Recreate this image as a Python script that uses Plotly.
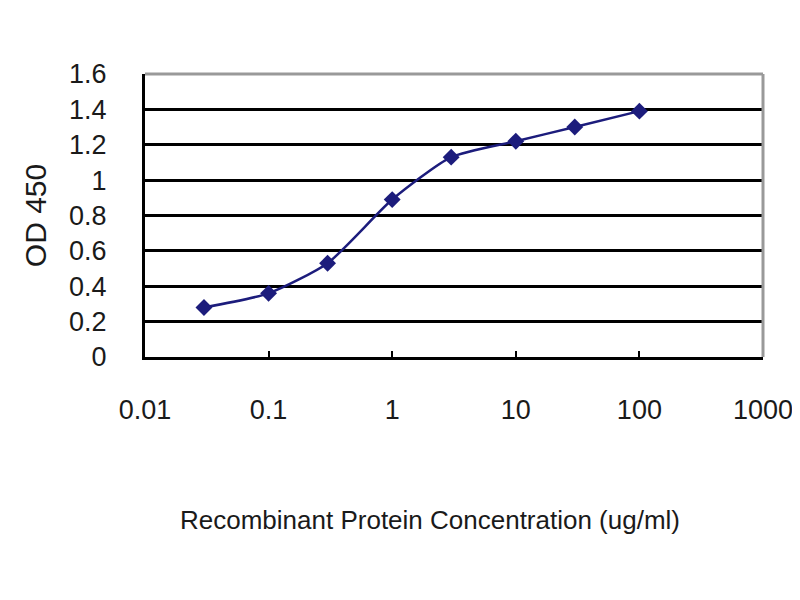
import plotly.graph_objects as go

# ELISA standard curve
concentration = [0.03, 0.1, 0.3, 1, 3, 10, 30, 100]
od450 = [0.28, 0.36, 0.53, 0.89, 1.13, 1.22, 1.30, 1.39]

x_tickvals = [0.01, 0.1, 1, 10, 100, 1000]
x_ticktext = ["0.01", "0.1", "1", "10", "100", "1000"]
y_tickvals = [0, 0.2, 0.4, 0.6, 0.8, 1.0, 1.2, 1.4, 1.6]
y_ticktext = ["0", "0.2", "0.4", "0.6", "0.8", "1", "1.2", "1.4", "1.6"]

navy = "#1c1c7c"
font_family = "Liberation Sans, Arial, sans-serif"

fig = go.Figure()

fig.add_trace(go.Scatter(
    x=concentration, y=od450,
    mode="lines+markers",
    line=dict(color=navy, width=2.5, shape="spline", smoothing=0.6),
    marker=dict(symbol="diamond", size=13, color=navy),
    showlegend=False
))

fig.update_layout(
    width=800, height=600,
    margin=dict(l=137, r=45, t=66, b=251),
    paper_bgcolor="white",
    plot_bgcolor="white",
    font=dict(family=font_family, color="#1a1a1a"),
    xaxis=dict(
        type="log",
        range=[-2, 3],
        tickvals=x_tickvals,
        ticktext=x_ticktext,
        ticks="inside", ticklen=6, tickwidth=2, tickcolor="black",
        ticklabelstandoff=27,
        tickfont=dict(size=27),
        showgrid=False,
        showline=True, linecolor="black", linewidth=3,
        zeroline=False,
    ),
    yaxis=dict(
        range=[0, 1.6],
        tickvals=y_tickvals,
        ticktext=y_ticktext,
        ticks="",
        ticklabelstandoff=30,
        tickfont=dict(size=27),
        showgrid=True, gridcolor="black", gridwidth=3,
        showline=True, linecolor="black", linewidth=3,
        zeroline=False,
        title=dict(text="OD 450", font=dict(size=30), standoff=14),
    ),
    annotations=[
        # x-axis title sits a little left of the plot centre in the original
        dict(text="Recombinant Protein Concentration (ug/ml)",
             xref="paper", yref="paper", x=0.461, y=0,
             xanchor="center", yanchor="middle", yshift=-163,
             showarrow=False, font=dict(size=26)),
    ],
    shapes=[
        dict(type="line", xref="paper", yref="paper", x0=0, x1=1, y0=1, y1=1,
             line=dict(color="#999999", width=3)),
        dict(type="line", xref="paper", yref="paper", x0=1, x1=1, y0=0, y1=1,
             line=dict(color="#999999", width=3)),
    ],
)

fig.write_html("out.html")
